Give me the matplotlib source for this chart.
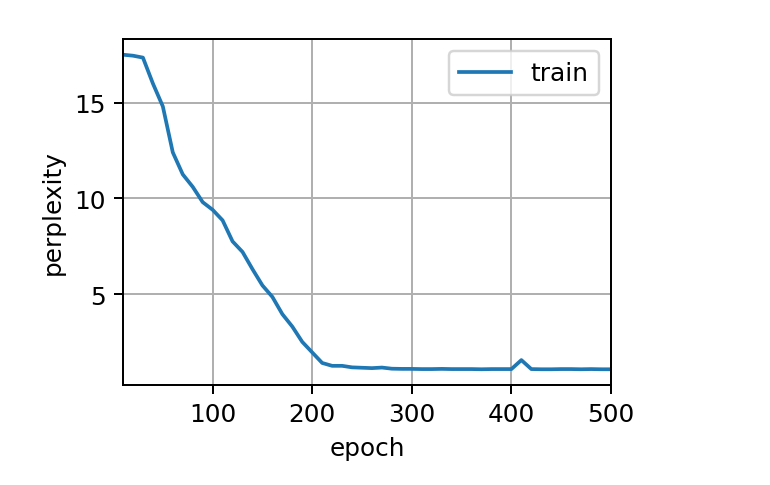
import matplotlib
matplotlib.use("Agg")
import matplotlib.pyplot as plt

epochs = list(range(10, 510, 10))
perplexity = [17.5, 17.45, 17.35, 16.0, 14.8, 12.4, 11.25, 10.6, 9.8, 9.4,
              8.85, 7.75, 7.2, 6.3, 5.45, 4.85, 3.95, 3.3, 2.5, 1.95,
              1.4, 1.25, 1.25, 1.17, 1.15, 1.13, 1.16, 1.1, 1.09, 1.09,
              1.08, 1.08, 1.09, 1.08, 1.08, 1.08, 1.07, 1.08, 1.08, 1.08,
              1.55, 1.08, 1.07, 1.07, 1.08, 1.08, 1.07, 1.08, 1.07, 1.07]

DPI = 178
fig = plt.figure(figsize=(770 / DPI, 486 / DPI), dpi=DPI)
ax = fig.add_axes([123 / 770, 1 - 386 / 486, (611 - 123) / 770, (386 - 40) / 486])
ax.plot(epochs, perplexity, color='#1f77b4', linewidth=1.5, label='train')
ax.set_xlim(10, 500)
ax.set_xlabel('epoch')
ax.set_ylabel('perplexity')
ax.grid(True)
ax.legend(loc='upper right', handlelength=2.1)
fig.savefig('out.png', dpi=DPI)
